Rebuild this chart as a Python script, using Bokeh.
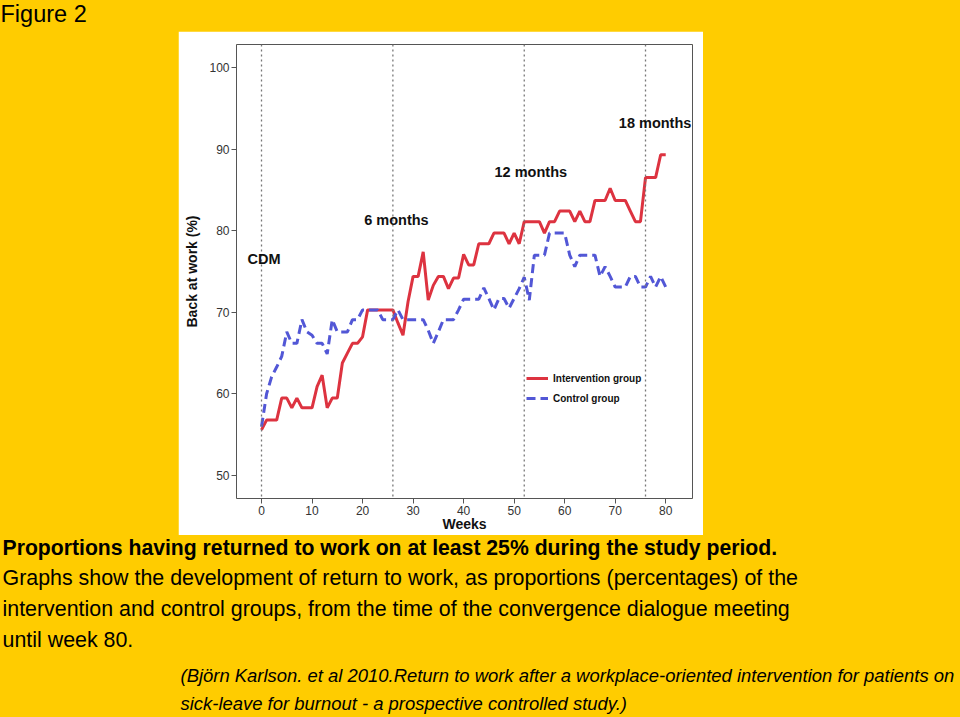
from bokeh.plotting import figure
from bokeh.layouts import column, row, Spacer
from bokeh.models import (LabelSet, Span, Legend, LegendItem,
                          FixedTicker, Range1d, ColumnDataSource)
from bokeh.core.properties import value
from bokeh.embed import file_html
from bokeh.resources import INLINE

# ---------------- data ----------------
weeks = list(range(81))
intervention = [55.6, 56.8, 56.8, 56.8, 59.5, 59.5, 58.3, 59.5, 58.3, 58.3,
                58.3, 60.9, 62.3, 58.3, 59.5, 59.5, 63.8, 65.0, 66.2, 66.2,
                67.0, 70.3, 70.3, 70.3, 70.3, 70.3, 70.3, 68.7, 67.2, 71.3,
                74.4, 74.4, 77.4, 71.5, 73.3, 74.4, 74.4, 72.9, 74.2, 74.2,
                77.1, 75.8, 75.8, 78.4, 78.4, 78.4, 79.7, 79.7, 79.7, 78.4,
                79.7, 78.4, 81.1, 81.1, 81.1, 81.1, 79.7, 81.1, 81.1, 82.4,
                82.4, 82.4, 81.1, 82.4, 81.1, 81.1, 83.7, 83.7, 83.7, 85.2,
                83.7, 83.7, 83.7, 82.4, 81.1, 81.1, 86.5, 86.5, 86.5, 89.3,
                89.3]
control = [56.0, 60.0, 62.1, 63.3, 64.6, 67.6, 66.2, 66.2, 69.1, 67.6,
           67.2, 66.2, 66.2, 64.9, 69.1, 67.6, 67.6, 67.6, 69.1, 69.1,
           70.3, 70.3, 70.3, 70.3, 69.1, 69.1, 69.1, 70.3, 69.1, 69.1,
           69.1, 69.1, 69.1, 67.8, 66.2, 67.6, 69.1, 69.1, 69.1, 70.3,
           71.6, 71.6, 71.6, 71.6, 73.0, 71.7, 70.3, 71.7, 71.7, 70.5,
           71.7, 72.9, 74.3, 71.5, 77.0, 77.0, 77.0, 79.7, 79.7, 79.7,
           79.7, 77.0, 75.6, 77.0, 77.0, 77.0, 77.0, 74.4, 75.6, 74.4,
           73.1, 73.1, 73.1, 74.4, 74.4, 73.1, 73.1, 74.4, 73.1, 74.4,
           73.1]
series_names = ["Intervention group", "Control group"]
marker_weeks = [0, 26, 52, 76]
marker_labels = ["CDM", "6 months", "12 months", "18 months"]
marker_label_x = [0.5, 26.7, 53.3, 77.9]
marker_label_y = [76.5, 81.3, 87.2, 93.2]
x_ticks = [0, 10, 20, 30, 40, 50, 60, 70, 80]
y_ticks = [50, 60, 70, 80, 90, 100]

figure_title = "Figure 2"
caption_bold = "Proportions having returned to work on at least 25% during the study period."
caption_lines = [
    "Graphs show the development of return to work, as proportions (percentages) of the",
    "intervention and control groups, from the time of the convergence dialogue meeting",
    "until week 80.",
]
citation_lines = [
    "(Björn Karlson. et al 2010.Return to work after a workplace-oriented intervention for patients on",
    "sick-leave for burnout - a prospective controlled study.)",
]

# ---------------- styling ----------------
YELLOW = "#FFCC00"
RED = "#DD3340"
BLUE = "#5257D6"
FONT = "Liberation Sans"

W, H = 960, 717
PIC_L, PIC_R, PIC_T, PIC_B = 178, 703, 31, 535     # white picture area
FR_L, FR_R, FR_T, FR_B = 236, 692, 44, 498         # plot frame


def blank(width, height):
    f = figure(width=width, height=height, output_backend="svg", toolbar_location=None,
               x_range=Range1d(0, width), y_range=Range1d(height, 0), min_border=0)
    f.axis.visible = False
    f.grid.visible = False
    f.outline_line_color = None
    f.border_fill_color = YELLOW
    f.background_fill_color = YELLOW
    return f


# ---------------- chart ----------------
p = figure(width=PIC_R - PIC_L, height=PIC_B - PIC_T, output_backend="svg",
           toolbar_location=None,
           x_range=Range1d(-4.95, 85.3), y_range=Range1d(47.2, 102.8),
           min_border_left=FR_L - PIC_L, min_border_right=PIC_R - FR_R,
           min_border_top=FR_T - PIC_T, min_border_bottom=PIC_B - FR_B)
p.border_fill_color = "white"
p.background_fill_color = "white"
p.outline_line_color = "#555555"
p.outline_line_width = 1
p.xgrid.visible = False
p.ygrid.visible = False

for ax in (p.xaxis[0], p.yaxis[0]):
    ax.axis_line_color = None
    ax.major_tick_line_color = "#555555"
    ax.major_tick_out = 5
    ax.major_tick_in = 0
    ax.minor_tick_line_color = None
    ax.major_label_text_font = FONT
    ax.major_label_text_font_size = "12px"
    ax.major_label_text_color = "#333333"
    ax.axis_label_text_font = FONT
    ax.axis_label_text_font_style = "bold"
    ax.axis_label_text_font_size = "14px"
    ax.axis_label_text_color = "#111111"

p.xaxis.ticker = FixedTicker(ticks=x_ticks)
p.yaxis.ticker = FixedTicker(ticks=y_ticks)
p.xaxis.axis_label = "Weeks"
p.yaxis.axis_label = "Back at work (%)"
p.xaxis.major_label_standoff = 2
p.xaxis.axis_label_standoff = -2
p.yaxis.major_label_standoff = 2
p.yaxis.axis_label_standoff = 6

for wk in marker_weeks:
    p.add_layout(Span(location=wk, dimension="height", line_color="#777777",
                      line_width=1.3, line_dash="2 3"))

src = ColumnDataSource(dict(x=marker_label_x, y=marker_label_y, t=marker_labels))
p.add_layout(LabelSet(x="x", y="y", text="t", source=src, text_align="center",
                      text_baseline="middle", text_font=value(FONT),
                      text_font_style="bold", text_font_size="14.5px",
                      text_color="#111111"))

r_int = p.line(weeks, intervention, line_color=RED, line_width=3)
r_ctl = p.line(weeks, control, line_color=BLUE, line_width=3, line_dash="9 5")

legend = Legend(items=[LegendItem(label=series_names[0], renderers=[r_int]),
                       LegendItem(label=series_names[1], renderers=[r_ctl])],
                location=(290, 93))
legend.label_text_font = FONT
legend.label_text_font_style = "bold"
legend.label_text_font_size = "10px"
legend.label_text_color = "#111111"
legend.glyph_width = 22
legend.glyph_height = 14
legend.label_height = 14
legend.spacing = 6
legend.padding = 0
legend.margin = 0
legend.label_standoff = 5
legend.border_line_color = None
legend.background_fill_alpha = 0
p.add_layout(legend)

# ---------------- page texts ----------------
header = blank(W, PIC_T)
header.text(x=[0], y=[13], text=[figure_title], text_font=value(FONT),
            text_font_size="23.5px", text_baseline="middle", text_color="#000000")

left_fill = Spacer(width=PIC_L, height=PIC_B - PIC_T,
                   styles={"background-color": YELLOW})
right_fill = Spacer(width=W - PIC_R, height=PIC_B - PIC_T,
                    styles={"background-color": YELLOW})

cap_h = H - PIC_B
captions = blank(W, cap_h)
captions.text(x=[2], y=[0.5], text=[caption_bold], text_font=value(FONT),
              text_font_style="bold", text_font_size="21.2px", text_baseline="top",
              text_color="#000000")
captions.text(x=[2] * len(caption_lines), y=[42 + 31 * i for i in range(len(caption_lines))],
              text=caption_lines, text_font=value(FONT), text_font_size="21.4px",
              text_baseline="middle", text_color="#000000")
captions.text(x=[180] * len(citation_lines), y=[140 + 28 * i for i in range(len(citation_lines))],
              text=citation_lines, text_font=value(FONT), text_font_style="italic",
              text_font_size="18.45px", text_baseline="middle", text_color="#000000")

layout = column(header, row(left_fill, p, right_fill, spacing=0,
                            styles={"background-color": YELLOW}),
                captions, spacing=0, styles={"background-color": YELLOW})
html = file_html(layout, INLINE)
html = html.replace("</head>",
                    "<style>html, body { margin: 0; background-color: #FFCC00; }</style>\n</head>", 1)
open("out.html", "w").write(html)
